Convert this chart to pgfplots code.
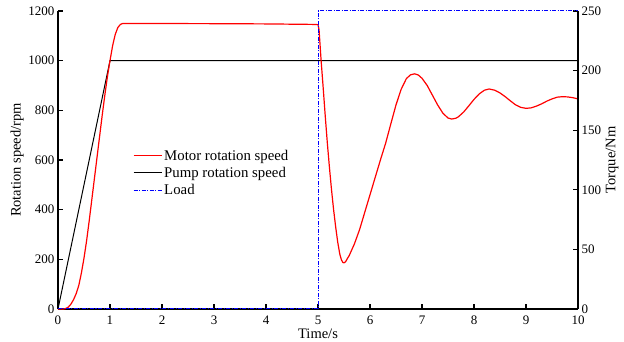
\documentclass[border=0pt]{standalone}
\usepackage{pgfplots}
\pgfplotsset{compat=1.18}
\usepackage{fontspec}
\setmainfont{Liberation Serif}
\definecolor{myred}{RGB}{255,0,0}
\definecolor{myblue}{RGB}{0,0,255}
\begin{document}
\begin{tikzpicture}
\pgfplotsset{
  every axis/.append style={
    scale only axis, width=520pt, height=298pt,
    xmin=0, xmax=10, clip=false,
    tick align=inside,
    major tick length=5pt,
    axis line style={-, line width=1.6pt},
    every tick/.style={black, line width=1.3pt},
    tick label style={font=\fontsize{13}{13}\selectfont},
    label style={font=\fontsize{14.5}{16}\selectfont},
    /pgf/number format/assume math mode=true,
    /pgf/number format/1000 sep={},
    scaled ticks=false,
  }
}
\begin{axis}[
  axis x line*=bottom, axis y line*=left,
  ymin=0, ymax=1200,
  ytick={0,200,...,1200},
  xtick={0,1,...,10},
  xticklabel style={yshift=-3.5pt},
  xlabel={Time/s},
  ylabel={Rotation speed/rpm},
  xlabel style={yshift=3pt},
  ylabel style={yshift=-2pt},
]
\coordinate (sw) at (rel axis cs:0,0);
\coordinate (ne) at (rel axis cs:1,1);
\addplot[black, line width=1pt] coordinates {(0,0) (1,1000) (10,1000)};
\addplot[myred, line width=1.2pt] coordinates {
(0,0) (0.1,0) (0.15,2) (0.2,8) (0.25,20) (0.3,38) (0.35,62) (0.4,95) (0.45,145)
(0.5,205) (0.55,275) (0.6,355) (0.65,440) (0.7,525) (0.75,610) (0.8,695)
(0.85,780) (0.9,860) (0.95,935) (1.0,1000) (1.05,1060) (1.1,1105) (1.15,1133)
(1.2,1146) (1.25,1150) (1.5,1150) (2,1149.5) (3,1149) (4,1148) (4.9,1146) (5.0,1145)
(5.02,1125) (5.06,1000) (5.1,890) (5.14,775) (5.18,667) (5.22,570) (5.26,480)
(5.3,400) (5.34,330) (5.38,268) (5.42,220) (5.45,198) (5.48,187) (5.5,186)
(5.53,190) (5.57,205) (5.6,215) (5.7,262) (5.8,320) (5.9,390) (6.0,460)
(6.1,530) (6.2,600) (6.3,667) (6.4,745) (6.5,822) (6.6,885) (6.7,928)
(6.78,943) (6.86,947) (6.93,942) (7.0,929) (7.1,900) (7.2,861) (7.3,822)
(7.4,789) (7.5,769) (7.57,765) (7.65,768) (7.7,774) (7.8,793) (7.9,818)
(8.0,844) (8.1,866) (8.2,881) (8.29,886) (8.4,881) (8.5,870) (8.6,855)
(8.7,838) (8.8,822) (8.9,812) (9.0,808) (9.1,810) (9.2,817) (9.3,826)
(9.4,837) (9.5,846) (9.6,853) (9.7,855) (9.8,854) (9.9,851) (10,846)
};
\end{axis}
\begin{axis}[
  axis x line=none, axis y line*=right,
  ymin=0, ymax=250,
  ytick={0,50,...,250},
  ylabel={Torque/Nm},
  ylabel style={yshift=2pt},
  legend cell align=left,
  legend style={draw=none, fill=none, at={(rel axis cs:0.142,0.545)}, anchor=north west,
    font=\fontsize{14.8}{16}\selectfont, row sep=1.5pt, inner sep=1pt},
  legend image code/.code={\draw[#1] (0pt,0pt) -- (28pt,0pt);},
]
\addlegendimage{myred, line width=1.2pt}
\addlegendentry{Motor rotation speed}
\addlegendimage{black, line width=1pt}
\addlegendentry{Pump rotation speed}
\addlegendimage{myblue, line width=1pt, dash pattern=on 4pt off 1.5pt on 1pt off 1.5pt}
\addlegendentry{Load}
\addplot[myblue, line width=1pt, dash pattern=on 4pt off 1.5pt on 1pt off 1.5pt, forget plot]
  coordinates {(0,0) (5,0) (5,250) (10,250)};
\end{axis}
\pgfresetboundingbox
\path ([shift={(-58pt,-33pt)}]sw) rectangle ([shift={(46pt,11pt)}]ne);
\end{tikzpicture}
\end{document}
